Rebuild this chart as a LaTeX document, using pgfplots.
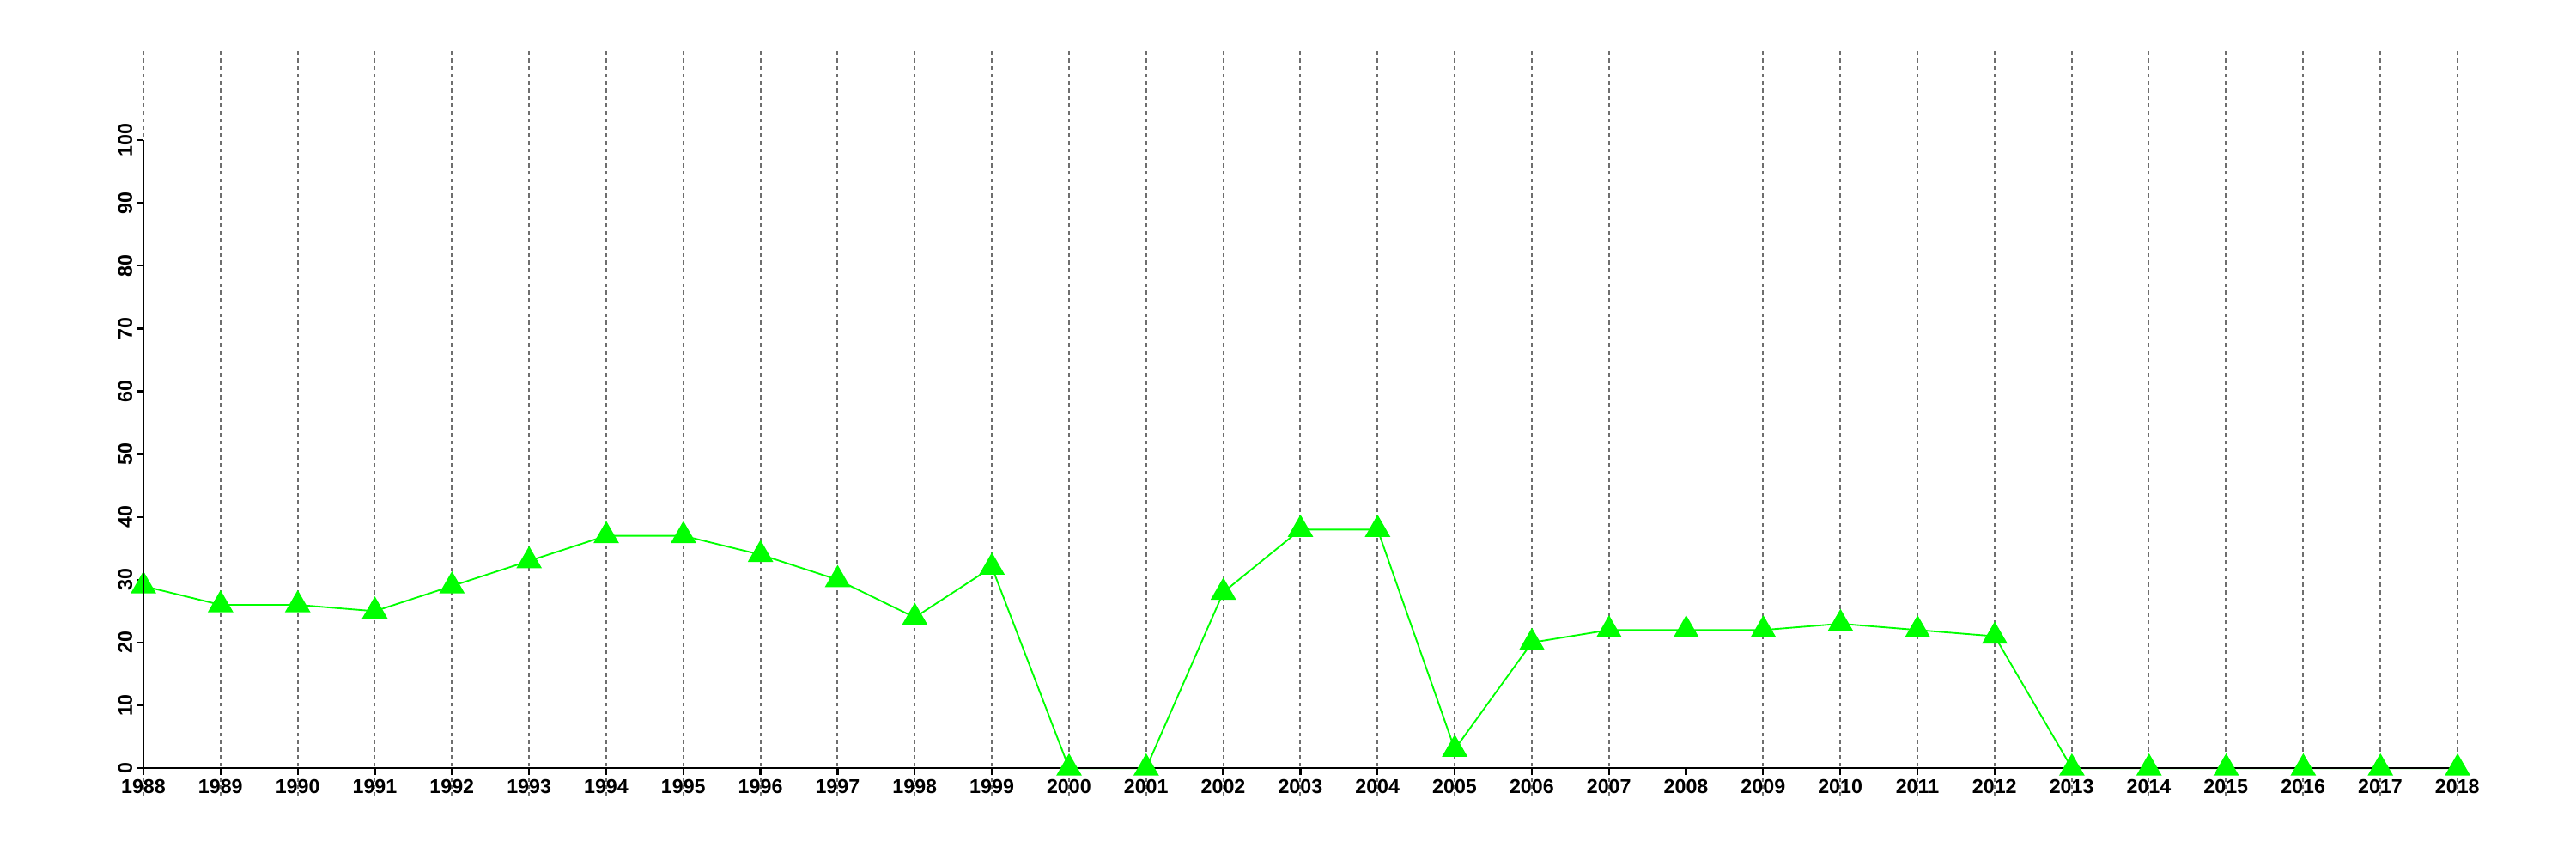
\documentclass[border=0pt]{standalone}
\usepackage{fontspec}
\setmainfont{Liberation Sans}
\usepackage{pgfplots}
\pgfplotsset{compat=1.18}
\definecolor{plotgreen}{RGB}{0,255,0}
\definecolor{gridgray}{RGB}{110,110,110}
\begin{document}
\begin{tikzpicture}
\path[use as bounding box] (0,0) rectangle (25.4cm,8.4667cm);
\begin{axis}[
  at={(1.4139cm,0.6181cm)}, anchor=south west,
  scale only axis, width=22.818cm, height=7.3465cm,
  xmin=1988, xmax=2018, ymin=-4.5, ymax=114.2,
  enlargelimits=false, clip=false,
  axis x line*=middle, axis y line*=left,
  y axis line style={draw=none},
  x axis line style={line width=0.55pt},
  hide obscured x ticks=false, hide obscured y ticks=false,
  xtick={1988,...,2018}, ytick={0,10,...,100},
  xtick align=outside, ytick align=outside,
  major tick length=1.9pt,
  every tick/.style={black, line width=0.55pt},
  xmajorgrids,
  major x grid style={gridgray, line width=0.45pt, dash pattern=on 1.1pt off 1.0pt},
  axis on top,
  /pgf/number format/1000 sep={},
  /pgf/number format/assume math mode=true,
  ticklabel style={font=\fontsize{5.6}{6}\selectfont\bfseries},
  xticklabel style={inner sep=1pt},
  yticklabel style={rotate=90, anchor=south, inner sep=1pt},
]
\addplot[plotgreen, line width=0.45pt, mark=triangle*, mark size=3.7pt,
  mark options={fill=plotgreen, draw=plotgreen}] coordinates {
(1988,29) (1989,26) (1990,26) (1991,25) (1992,29) (1993,33) (1994,37) (1995,37)
(1996,34) (1997,30) (1998,24) (1999,32) (2000,0) (2001,0) (2002,28) (2003,38)
(2004,38) (2005,3) (2006,20) (2007,22) (2008,22) (2009,22) (2010,23) (2011,22)
(2012,21) (2013,0) (2014,0) (2015,0) (2016,0) (2017,0) (2018,0)
};
\coordinate (yaxbot) at (axis cs:1988,0);
\coordinate (yaxtop) at (axis cs:1988,100);
\end{axis}
\draw[black, line width=0.55pt] (yaxbot) -- (yaxtop);
\end{tikzpicture}
\end{document}
